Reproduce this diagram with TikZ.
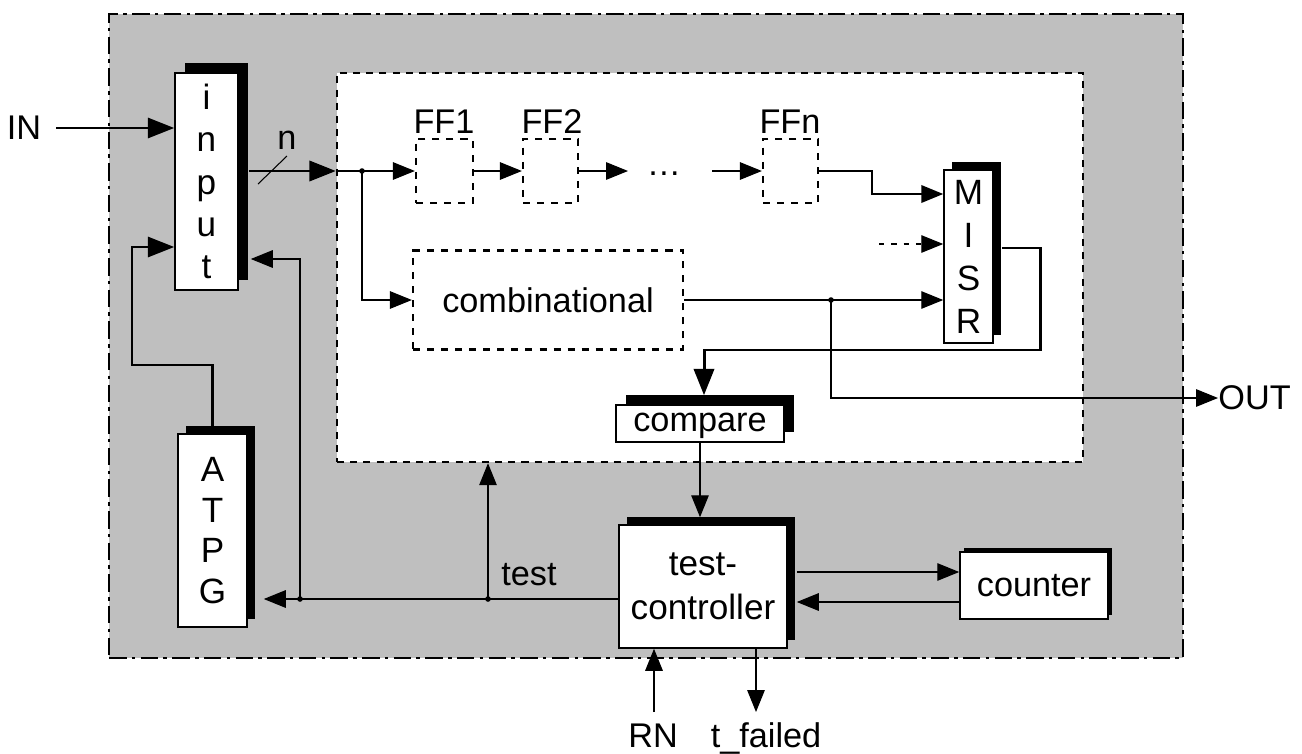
\documentclass[tikz,border=0pt]{standalone}
\usepackage{fontspec}
\setmainfont{Liberation Sans}
\usetikzlibrary{arrows.meta,shadows}
\tikzset{
  blk/.style 2 args={draw, line width=0.9pt, fill=white, minimum width=#1*0.02cm,
    minimum height=#2*0.02cm, inner sep=0pt, align=center},
  shd/.style={general shadow={fill=black, shadow xshift=#1*0.02cm, shadow yshift=#1*0.02cm}},
  dashbox/.style 2 args={draw, line width=1.3pt, dash pattern=on 4pt off 4pt,
    minimum width=#1*0.02cm, minimum height=#2*0.02cm, inner sep=0pt},
  wthick/.style={line width=1.3pt},
  wbus/.style={line width=1.7pt},
  wthin/.style={line width=0.6pt},
  tipbig/.style={-{Triangle[length=15pt,width=11.5pt]}},
  tipmed/.style={-{Triangle[length=12.5pt,width=10pt]}},
  lbl/.style={inner sep=0pt},
  stack/.style={font=\fontsize{20}{24}\selectfont},
  jdot/.style={fill=black},
}
\begin{document}
\begin{tikzpicture}[x=0.02cm,y=-0.02cm,font=\fontsize{19.5}{24}\selectfont]
\useasboundingbox (0,0) rectangle (1302,754);

% shaded test frame and the white circuit area
\node[draw, line width=1.5pt, dash pattern=on 10pt off 3pt on 2pt off 3pt,
      fill=black!25, minimum width=1074*0.02cm, minimum height=644*0.02cm, inner sep=0pt]
      (outer) at (646,336) {};
\node[draw, line width=1.4pt, dash pattern=on 4pt off 3.5pt, fill=white,
      minimum width=746*0.02cm, minimum height=389*0.02cm, inner sep=0pt]
      (inner) at (710,267.5) {};

% blocks
\node[blk={63}{217}, shd=10, stack] (input) at (206.5,181.5) {i\\n\\p\\u\\t};
\node[blk={69}{193}, shd=8, font=\fontsize{20}{23}\selectfont] (ATPG) at (212.5,530.5) {A\\T\\P\\G};
\node[blk={49}{173}, shd=8, font=\fontsize{20}{24.5}\selectfont] (MISR) at (968.5,256.5) {M\\I\\S\\R};
\node[blk={168}{37}, shd=10, text depth=1pt] (compare) at (700,423.5) {compare};
\node[blk={168}{123}, shd=8, font=\fontsize{20}{25}\selectfont] (tc) at (703,586.5) {test-\\controller};
\node[blk={148}{67}, shd=4] (counter) at (1034,585.5) {counter};

\node[dashbox={57}{64}] (FF1) at (444.5,171) {};
\node[dashbox={55}{64}] (FF2) at (550.5,171) {};
\node[dashbox={55}{64}] (FFn) at (790.5,171) {};
\node[dashbox={270}{99}] (comb) at (548,300) {combinational};

% labels
\node[lbl, anchor=base] (lFF1) at (444,133) {FF1};
\node[lbl, anchor=base] (lFF2) at (552,133) {FF2};
\node[lbl, anchor=base] (lFFn) at (790,133) {FFn};
\node[lbl, anchor=base] (dots) at (664,175) {\dots};
\node[lbl] (IN) at (24,128) {IN};
\node[lbl, anchor=west] (OUT) at (1218,398) {OUT};
\node[lbl, anchor=base] (RN) at (653,747) {RN};
\node[lbl, anchor=base] (tf) at (766,747) {t\_failed};
\node[lbl] (nl) at (287,140) {n};
\node[lbl] (testl) at (529,575) {test};

% input side
\draw[wthick, tipbig] ([xshift=0.3cm]IN.east) -- (input.west |- IN.east);
\coordinate (busS) at (input.east |- FF1.west);
\coordinate (busE) at (inner.west |- FF1.west);
\draw[wbus, tipbig] ([xshift=0.2cm]busS) -- (busE);
\draw[wthin] (258,184) -- (287,156);

\coordinate (a1) at (ATPG.north |- 0,365);
\coordinate (a2) at (132,365);
\coordinate (a3) at (input.west |- 0,247);
\draw[wthick, tipbig] (ATPG.north) -- (a1) -- (a2) |- (a3);

% scan chain and combinational part
\coordinate (j1) at (362,171);
\draw[wthin, tipmed] (busE) -- (FF1.west);
\draw[wthin, tipmed] (j1) |- (comb.west);
\fill[jdot] (j1) circle[radius=1.6pt];
\draw[wthin, tipmed] (FF1.east) -- (FF2.west);
\coordinate (d1) at (628,171);
\draw[wthin, tipmed] (FF2.east) -- (d1);
\coordinate (d2) at (712,171);
\draw[wthin, tipmed] (d2) -- (FFn.west);

\coordinate (k1) at (872,194);
\coordinate (m1) at (MISR.west |- k1);
\draw[line width=1.1pt, tipmed] (FFn.east) -| (k1) -- (m1);
\coordinate (m2s) at (879,244);
\draw[wthin, dash pattern=on 3pt off 4pt, tipmed] (m2s) -- (MISR.west |- m2s);
\draw[wthin, tipmed] (comb.east) -- (MISR.west |- comb.east);

\coordinate (j2) at (831,300);
\draw[wthin, tipmed] (j2) |- (OUT.west);
\fill[jdot] (j2) circle[radius=1.6pt];

% signature feedback to the comparator
\coordinate (f1) at (1040,248);
\coordinate (f2) at (1040,350);
\coordinate (f3) at (704,350);
\coordinate (mE) at (MISR.east |- f1);
\coordinate (cN) at (compare.north -| f3);
\draw[wbus, tipbig] ([xshift=0.16cm]mE) -- (f1) -- (f2) -- (f3) -- ([yshift=0.18cm]cN);

% controller
\coordinate (tN) at (compare.south |- tc.north);
\draw[wthin, tipmed] (compare.south) -- ([yshift=0.14cm]tN);
\coordinate (c1) at (tc.east |- 0,572);
\draw[wthin, tipmed] ([xshift=0.18cm]c1) -- (counter.west |- c1);
\coordinate (c2) at (counter.west |- 0,602);
\coordinate (c3) at (tc.east |- c2);
\draw[wthin, tipmed] (c2) -- ([xshift=0.18cm]c3);

\coordinate (t0) at (tc.west |- 0,599);
\coordinate (at) at (ATPG.east |- t0);
\draw[wthin, tipmed] (t0) -- ([xshift=0.32cm]at);
\coordinate (ja) at (300,599);
\coordinate (jb) at (488,599);
\coordinate (iT) at (input.east |- 0,259);
\draw[wthin, tipmed] (ja) |- ([xshift=0.24cm]iT);
\draw[wthin, tipmed] (jb) -- (jb |- inner.south);
\fill[jdot] (ja) circle[radius=1.6pt];
\fill[jdot] (jb) circle[radius=1.6pt];

\coordinate (rnS) at (654,712);
\draw[wthin, tipmed] (rnS) -- (rnS |- tc.south);
\coordinate (tfE) at (756,712);
\draw[wthin, tipmed] (tfE |- tc.south) -- (tfE);
\end{tikzpicture}
\end{document}
